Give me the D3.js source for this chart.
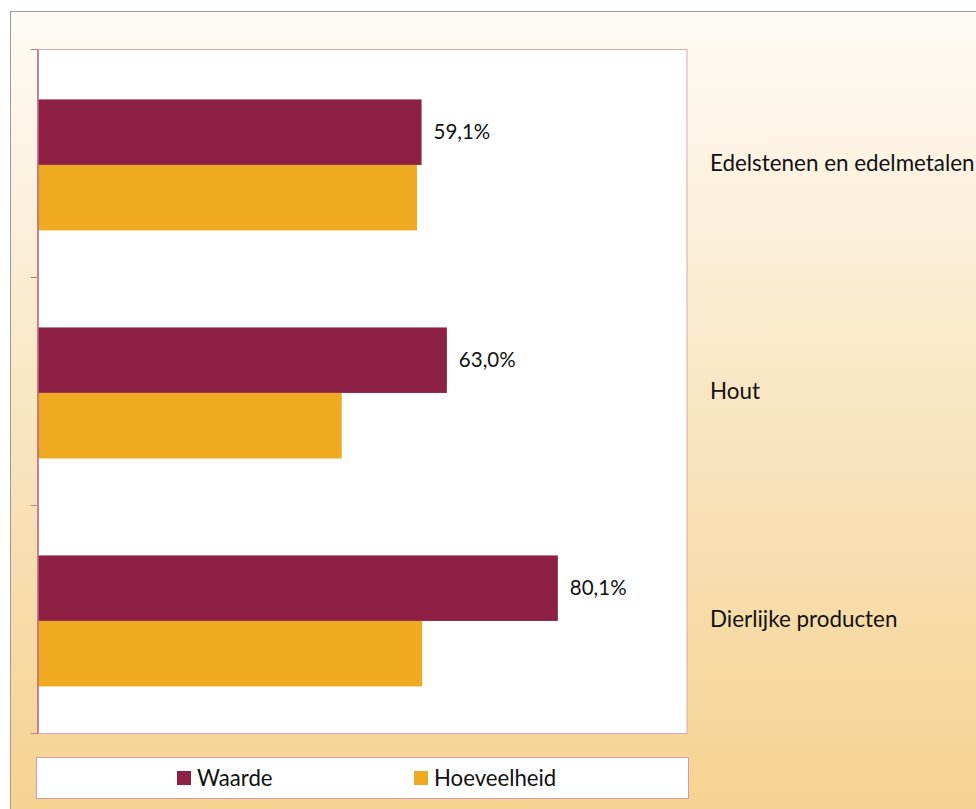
<!DOCTYPE html>
<html>
<head>
<meta charset="utf-8">
<script src="https://cdn.jsdelivr.net/npm/d3@7"></script>
<style>
  body { margin: 0; background: #fff; }
  text { font-family: Lato, "Open Sans", sans-serif; fill: #111; }
</style>
</head>
<body>
<script>
const categories = ["Edelstenen en edelmetalen", "Hout", "Dierlijke producten"];
const seriesNames = ["Waarde", "Hoeveelheid"];
const waarde = [59.1, 63.0, 80.1];
const hoeveelheid = [58.4, 46.8, 59.2];
const colors = ["#8E2045", "#F0AA22"];

const width = 976;
const height = 809;
const plot = {left: 38, top: 49, right: 687, bottom: 733};

const dataset = categories.map((c, i) => ({
    category: c,
    values: [
        {series: seriesNames[0], value: waarde[i]},
        {series: seriesNames[1], value: hoeveelheid[i]}
    ]
}));

const nl = d3.formatLocale({decimal: ",", thousands: ".", grouping: [3], currency: ["€", ""]});
const pct = v => nl.format(".1f")(v) + "%";

const svg = d3.select("body")
    .append("svg")
    .attr("width", width)
    .attr("height", height);

// background gradient
const grad = svg.append("defs").append("linearGradient")
    .attr("id", "bg")
    .attr("x1", 0).attr("y1", 0).attr("x2", 0).attr("y2", 1);
grad.append("stop").attr("offset", "0%").attr("stop-color", "#FEFBF6");
grad.append("stop").attr("offset", "50%").attr("stop-color", "#F9E4BE");
grad.append("stop").attr("offset", "100%").attr("stop-color", "#F5D18C");

svg.append("rect")
    .attr("x", 10.5).attr("y", 11.5)
    .attr("width", 1000).attr("height", 840)
    .attr("fill", "url(#bg)")
    .attr("stroke", "#9a9a9a");

// plot area
svg.append("rect")
    .attr("x", plot.left).attr("y", plot.top + 0.5)
    .attr("width", plot.right - plot.left)
    .attr("height", plot.bottom - plot.top)
    .attr("fill", "#fff")
    .attr("stroke", "#D9A6B6");

// scales
const x = d3.scaleLinear()
    .domain([0, 100])
    .range([plot.left, plot.right]);

const y0 = d3.scaleBand()
    .domain(categories)
    .range([plot.top, plot.bottom])
    .padding(0);

const y1 = d3.scaleBand()
    .domain(seriesNames)
    .range([0, y0.bandwidth()])
    .paddingInner(0)
    .paddingOuter(0.74)
    .align(0.52);

const color = d3.scaleOrdinal()
    .domain(seriesNames)
    .range(colors);

// bars
const groups = svg.selectAll(".group")
    .data(dataset)
    .enter()
    .append("g")
    .attr("transform", d => `translate(0,${y0(d.category)})`);

groups.selectAll("rect")
    .data(d => d.values)
    .enter()
    .append("rect")
    .attr("x", x(0))
    .attr("y", d => y1(d.series))
    .attr("width", d => x(d.value) - x(0))
    .attr("height", y1.bandwidth())
    .attr("fill", d => color(d.series));

// value labels (Waarde only)
groups.append("text")
    .attr("x", d => x(d.values[0].value) + 12)
    .attr("y", y1("Waarde") + y1.bandwidth() / 2)
    .attr("dy", "0.35em")
    .style("font-size", "20.5px")
    .text(d => pct(d.values[0].value));

// left axis with ticks at band edges
const axis = svg.append("g")
    .attr("transform", `translate(${plot.left - 0.5},0)`)
    .call(d3.axisLeft(y0).tickSizeOuter(0).tickSize(0).tickFormat(""));
axis.select(".domain").attr("stroke", "#B9697A").attr("stroke-width", 1.5);
const edges = categories.map(c => y0(c)).concat([plot.bottom]);
axis.selectAll(".edge")
    .data(edges)
    .enter()
    .append("line")
    .attr("x1", -7).attr("x2", 0)
    .attr("y1", d => d + 0.5).attr("y2", d => d + 0.5)
    .attr("stroke", "#C07A88");

// category labels on the right
svg.append("g")
    .selectAll("text")
    .data(categories)
    .enter()
    .append("text")
    .attr("x", 710)
    .attr("y", d => y0(d) + y0.bandwidth() / 2)
    .attr("dy", "0.35em")
    .style("font-size", "22.4px")
    .text(d => d);

// legend
const legend = svg.append("g");
legend.append("rect")
    .attr("x", 36.5).attr("y", 757.5)
    .attr("width", 652).attr("height", 41)
    .attr("fill", "#fff")
    .attr("stroke", "#D898AA");

const legendX = [177, 414];
const items = legend.selectAll(".item")
    .data(seriesNames)
    .enter()
    .append("g")
    .attr("transform", (d, i) => `translate(${legendX[i]},771)`);
items.append("rect")
    .attr("width", 14).attr("height", 14)
    .attr("fill", d => color(d));
items.append("text")
    .attr("x", 20).attr("y", 7)
    .attr("dy", "0.35em")
    .style("font-size", "22.2px")
    .text(d => d);
</script>
</body>
</html>
